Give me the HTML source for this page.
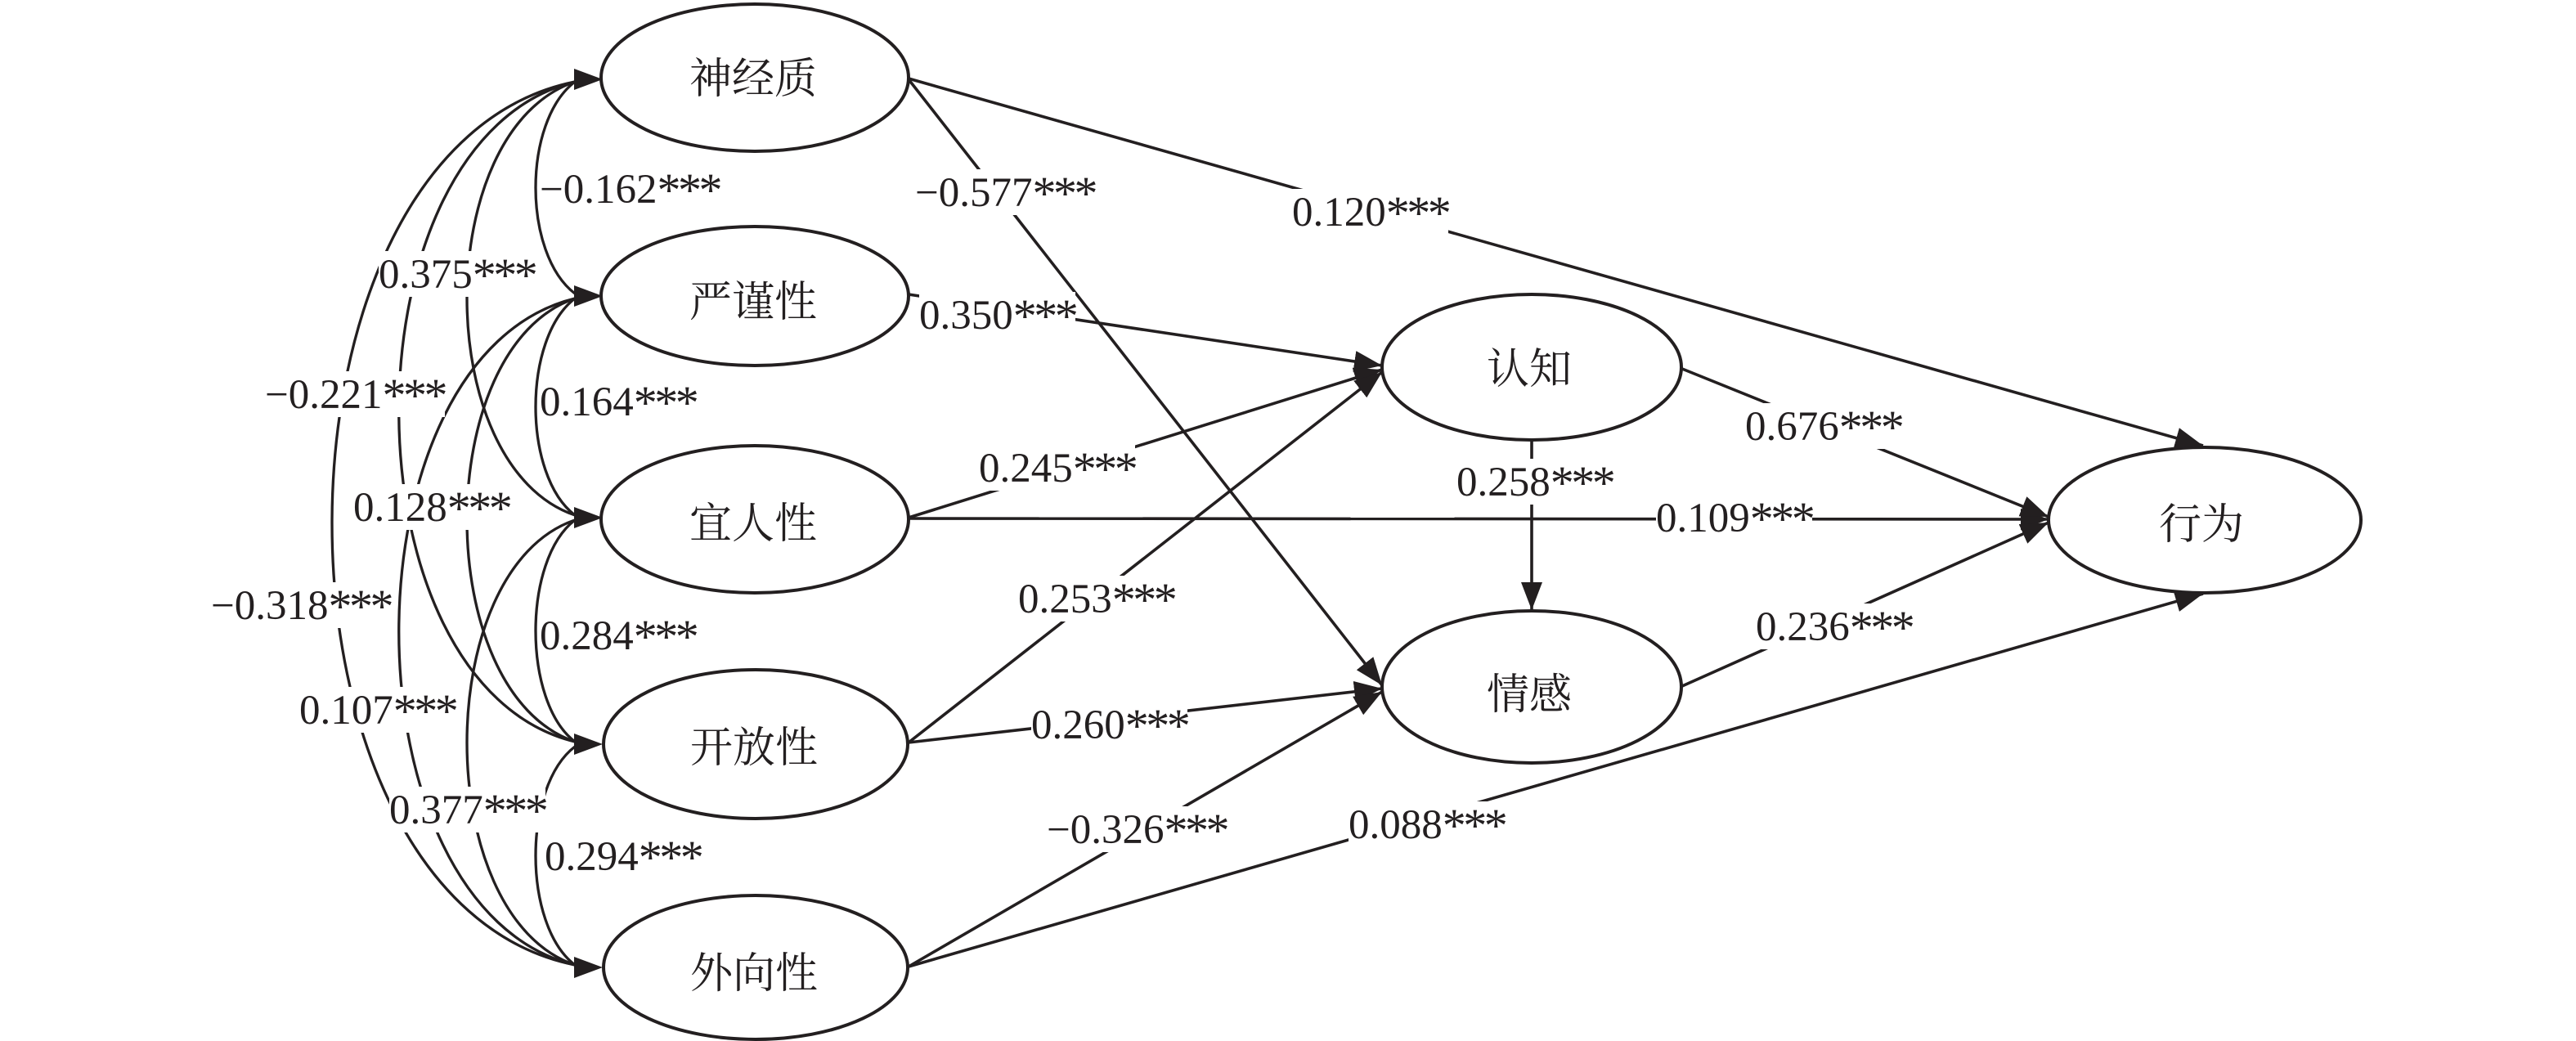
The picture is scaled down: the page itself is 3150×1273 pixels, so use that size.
<!DOCTYPE html>
<html>
<head>
<meta charset="utf-8">
<style>
html,body{margin:0;padding:0;background:#fff;}
svg{display:block;}
.num{font-family:"Liberation Serif","Noto Serif CJK SC",serif;font-size:51px;fill:#231f20;}
.num tspan{font-size:58px;letter-spacing:-3.5px;}
.cn{font-family:"Liberation Serif","Noto Serif CJK SC","Noto Sans CJK SC",serif;font-size:52px;fill:#231f20;}
</style>
</head>
<body>
<svg width="3150" height="1273" viewBox="0 0 3150 1273" xmlns="http://www.w3.org/2000/svg">
<defs>
<marker id="ah" markerWidth="36" markerHeight="28" refX="34" refY="13" orient="auto" markerUnits="userSpaceOnUse">
<path d="M0,0 L34,13 L0,26 z" fill="#231f20"/>
</marker>
</defs>
<rect width="3150" height="1273" fill="#fff"/>

<!-- Ellipses -->
<g fill="#fff" stroke="#231f20" stroke-width="4">
<ellipse cx="923" cy="95" rx="188" ry="90"/>
<ellipse cx="923" cy="362" rx="188" ry="85"/>
<ellipse cx="923" cy="635" rx="188" ry="90"/>
<ellipse cx="924" cy="910" rx="186" ry="91"/>
<ellipse cx="924" cy="1183" rx="186" ry="88"/>
<ellipse cx="1873" cy="449" rx="183" ry="89"/>
<ellipse cx="1873" cy="840" rx="183" ry="93"/>
<ellipse cx="2696" cy="636" rx="191" ry="89"/>
</g>

<!-- Correlation arcs -->
<g fill="none" stroke="#231f20" stroke-width="3.3">
<path d="M703,100 C639,149 639,310 703,359"/>
<path d="M703,365 C639,414 639,581 703,630"/>
<path d="M703,636 C639,685 639,858 703,907"/>
<path d="M703,913 C639,962 639,1131 703,1180"/>
<path d="M703,100 C527,160 527,570 703,630"/>
<path d="M703,365 C527,425 527,847 703,907"/>
<path d="M703,636 C527,696 527,1120 703,1180"/>
<path d="M703,100 C416,170 416,837 703,907"/>
<path d="M703,365 C416,435 416,1110 703,1180"/>
<path d="M703,100 C307,180 307,1100 703,1180"/>
</g>
<g fill="#231f20">
<polygon points="702,84 737,97 702,110"/>
<polygon points="702,349 737,362 702,375"/>
<polygon points="702,620 737,633 702,646"/>
<polygon points="702,897 737,910 702,923"/>
<polygon points="702,1170 737,1183 702,1196"/>
</g>

<!-- Path arrows -->
<g fill="none" stroke="#231f20" stroke-width="3.6" marker-end="url(#ah)">
<line x1="1111" y1="96" x2="2694" y2="545"/>
<line x1="1111" y1="97" x2="1690" y2="838"/>
<line x1="1111" y1="360" x2="1690" y2="447"/>
<line x1="1111" y1="633" x2="1690" y2="452"/>
<line x1="1111" y1="908" x2="1690" y2="455"/>
<line x1="1111" y1="634" x2="2505" y2="635"/>
<line x1="1111" y1="908" x2="1690" y2="842"/>
<line x1="1111" y1="1182" x2="1690" y2="846"/>
<line x1="1111" y1="1182" x2="2694" y2="726"/>
<line x1="2057" y1="451" x2="2505" y2="632"/>
<line x1="1873" y1="538" x2="1873" y2="746"/>
<line x1="2057" y1="839" x2="2505" y2="639"/>
</g>

<!-- Label backgrounds -->
<g fill="#fff">
<rect x="662" y="203" width="218" height="56"/>
<rect x="463" y="307" width="191" height="56"/>
<rect x="324" y="454" width="220" height="56"/>
<rect x="660" y="463" width="191" height="56"/>
<rect x="432" y="592" width="191" height="56"/>
<rect x="258" y="712" width="220" height="56"/>
<rect x="660" y="749" width="191" height="56"/>
<rect x="366" y="840" width="191" height="56"/>
<rect x="476" y="962" width="191" height="56"/>
<rect x="666" y="1019" width="191" height="56"/>
<rect x="1119" y="207" width="220" height="56"/>
<rect x="1580" y="231" width="191" height="56"/>
<rect x="1124" y="357" width="191" height="56"/>
<rect x="1197" y="544" width="191" height="56"/>
<rect x="1245" y="704" width="191" height="56"/>
<rect x="1261" y="858" width="191" height="56"/>
<rect x="1280" y="986" width="220" height="56"/>
<rect x="1649" y="980" width="191" height="56"/>
<rect x="1781" y="561" width="191" height="56"/>
<rect x="2025" y="605" width="191" height="56"/>
<rect x="2134" y="493" width="191" height="56"/>
<rect x="2147" y="738" width="191" height="56"/>
</g>

<!-- Labels -->
<g class="num">
<text x="660" y="248">−0.162<tspan dy="4">***</tspan></text>
<text x="463" y="352">0.375<tspan dy="4">***</tspan></text>
<text x="324" y="499">−0.221<tspan dy="4">***</tspan></text>
<text x="660" y="508">0.164<tspan dy="4">***</tspan></text>
<text x="432" y="637">0.128<tspan dy="4">***</tspan></text>
<text x="258" y="757">−0.318<tspan dy="4">***</tspan></text>
<text x="660" y="794">0.284<tspan dy="4">***</tspan></text>
<text x="366" y="885">0.107<tspan dy="4">***</tspan></text>
<text x="476" y="1007">0.377<tspan dy="4">***</tspan></text>
<text x="666" y="1064">0.294<tspan dy="4">***</tspan></text>
<text x="1119" y="252">−0.577<tspan dy="4">***</tspan></text>
<text x="1580" y="276">0.120<tspan dy="4">***</tspan></text>
<text x="1124" y="402">0.350<tspan dy="4">***</tspan></text>
<text x="1197" y="589">0.245<tspan dy="4">***</tspan></text>
<text x="1245" y="749">0.253<tspan dy="4">***</tspan></text>
<text x="1261" y="903">0.260<tspan dy="4">***</tspan></text>
<text x="1280" y="1031">−0.326<tspan dy="4">***</tspan></text>
<text x="1649" y="1025">0.088<tspan dy="4">***</tspan></text>
<text x="1781" y="606">0.258<tspan dy="4">***</tspan></text>
<text x="2025" y="650">0.109<tspan dy="4">***</tspan></text>
<text x="2134" y="538">0.676<tspan dy="4">***</tspan></text>
<text x="2147" y="783">0.236<tspan dy="4">***</tspan></text>
</g>

<!-- Node names -->
<g class="cn" text-anchor="middle">
<text x="921" y="114">神经质</text>
<text x="921" y="387">严谨性</text>
<text x="921" y="658">宜人性</text>
<text x="922" y="932">开放性</text>
<text x="922" y="1208">外向性</text>
<text x="1870" y="469">认知</text>
<text x="1870" y="867">情感</text>
<text x="2692" y="659">行为</text>
</g>
</svg>
</body>
</html>
